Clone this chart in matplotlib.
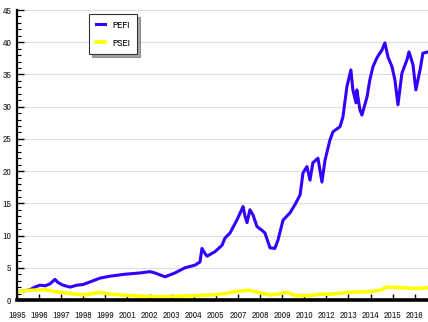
import matplotlib
matplotlib.use("Agg")
import matplotlib.pyplot as plt
from matplotlib.ticker import MultipleLocator, FixedLocator
from matplotlib import font_manager

# Tick labels along the time axis (one label per period step)
period_labels = ["1995", "1996", "1997", "1998", "1999", "2001", "2002", "2003",
                 "2004", "2005", "2007", "2008", "2009", "2010", "2012", "2013",
                 "2014", "2015", "2016"]

# PEFI: position along the time axis (label steps) and index level
pefi_t = [0.00, 0.32, 0.59, 0.81, 1.04, 1.27, 1.49, 1.72, 1.86, 2.08, 2.40, 2.71,
          2.99, 3.30, 3.76, 4.21, 4.89, 5.57, 6.02, 6.24, 6.47, 6.70, 7.15, 7.60,
          8.05, 8.28, 8.37, 8.51, 8.60, 8.96, 9.28, 9.41, 9.64, 9.95, 10.14, 10.23,
          10.32, 10.41, 10.54, 10.68, 10.86, 11.09, 11.22, 11.36, 11.45, 11.67, 11.81,
          12.04, 12.35, 12.58, 12.81, 12.90, 12.94, 13.12, 13.26, 13.39, 13.62, 13.80,
          13.94, 14.16, 14.30, 14.62, 14.75, 14.93, 15.11, 15.20, 15.34, 15.38, 15.52,
          15.61, 15.84, 15.97, 16.11, 16.29, 16.52, 16.65, 16.79, 16.97, 17.10, 17.24,
          17.42, 17.65, 17.74, 17.92, 18.05, 18.24, 18.37, 18.60]
pefi_v = [1.3, 1.4, 1.6, 2.0, 2.3, 2.2, 2.5, 3.2, 2.7, 2.3, 2.0, 2.3,
          2.4, 2.8, 3.4, 3.7, 4.0, 4.2, 4.4, 4.2, 3.9, 3.6, 4.2, 5.0,
          5.4, 5.9, 8.0, 7.2, 6.8, 7.5, 8.5, 9.6, 10.4, 12.4, 13.8, 14.5,
          13.0, 12.0, 14.0, 13.2, 11.4, 10.8, 10.4, 9.0, 8.1, 8.0, 9.3,
          12.4, 13.5, 14.8, 16.3, 18.6, 19.7, 20.7, 18.6, 21.3, 22.0, 18.3,
          21.7, 24.8, 26.1, 26.9, 28.4, 33.1, 35.7, 32.6, 30.6, 32.6, 29.5,
          28.7, 31.5, 34.2, 36.2, 37.6, 38.8, 39.9, 37.7, 36.2, 34.2, 30.3,
          35.2, 37.3, 38.5, 36.5, 32.6, 35.7, 38.3, 38.5]

# PSEI
psei_t = [0.00, 0.59, 1.27, 1.72, 2.17, 2.62, 3.08, 3.76, 4.21, 4.66, 5.57, 6.47,
          7.38, 8.28, 8.87, 9.41, 10.09, 10.54, 11.00, 11.45, 11.81, 12.22, 12.58,
          13.26, 13.71, 14.16, 15.07, 15.97, 16.43, 16.74, 17.47, 18.01, 18.60]
psei_v = [1.3, 1.5, 1.6, 1.3, 1.1, 0.9, 0.8, 1.2, 0.9, 0.8, 0.6, 0.5,
          0.6, 0.7, 0.8, 1.0, 1.4, 1.5, 1.1, 0.8, 0.9, 1.2, 0.7,
          0.7, 0.9, 0.9, 1.2, 1.3, 1.5, 2.0, 1.9, 1.8, 1.9]


def _regular(f):
    return f.style == "normal" and f.weight in (400, "normal", "regular", "book")


# Prefer a narrow regular face for the dense tick labels
fonts = font_manager.fontManager.ttflist
narrow = [f for f in fonts if "Narrow" in f.name and _regular(f)]
condensed = [f for f in fonts if _regular(f) and
             ("Condensed" in f.name or f.stretch in ("condensed", "semi-condensed"))]
if narrow:
    tick_prop = font_manager.FontProperties(fname=narrow[0].fname, size=7.0)
    leg_prop = font_manager.FontProperties(fname=narrow[0].fname, size=7.0)
elif condensed:
    tick_prop = font_manager.FontProperties(fname=condensed[0].fname, size=6.0)
    leg_prop = font_manager.FontProperties(fname=condensed[0].fname, size=6.2)
else:
    tick_prop = font_manager.FontProperties(family="DejaVu Sans", size=5.6)
    leg_prop = font_manager.FontProperties(family="DejaVu Sans", size=6.0)

fig = plt.figure(figsize=(4.28, 3.22), dpi=100)
ax = fig.add_axes([17 / 428, 22 / 322, 411 / 428, 290 / 322])

ax.plot(pefi_t, pefi_v, color="#3300ff", lw=2.2, label="PEFI", solid_joinstyle="round")
ax.plot(psei_t, psei_v, color="#ffff00", lw=2.6, label="PSEI", solid_joinstyle="round")

ax.set_xlim(0, 18.6)
ax.set_ylim(0, 45)

ax.xaxis.set_major_locator(FixedLocator(range(len(period_labels))))
ax.set_xticklabels(period_labels)
ax.yaxis.set_major_locator(MultipleLocator(5))
ax.yaxis.set_minor_locator(MultipleLocator(1))

ax.grid(axis="y", color="#dddddd", lw=0.8)
ax.set_axisbelow(True)

for s in ("top", "right"):
    ax.spines[s].set_visible(False)
ax.spines["left"].set_linewidth(1.6)
ax.spines["bottom"].set_linewidth(2.6)

ax.tick_params(axis="x", direction="in", length=4, width=1, pad=8)
ax.tick_params(axis="y", which="major", direction="in", length=5, width=1, pad=4)
ax.tick_params(axis="y", which="minor", direction="in", length=3, width=0.8)
for lab in ax.get_xticklabels() + ax.get_yticklabels():
    lab.set_fontproperties(tick_prop)
    lab.set_color("#222222")

leg = ax.legend(loc="upper left", bbox_to_anchor=(72 / 411, 1 - 4 / 290),
                borderaxespad=0, fancybox=False, shadow=True, framealpha=1,
                edgecolor="#333333", handlelength=0.9, handletextpad=0.8,
                borderpad=0.7, labelspacing=0.9, prop=leg_prop)
leg.get_frame().set_linewidth(0.8)

fig.savefig("out.png", dpi=100)
